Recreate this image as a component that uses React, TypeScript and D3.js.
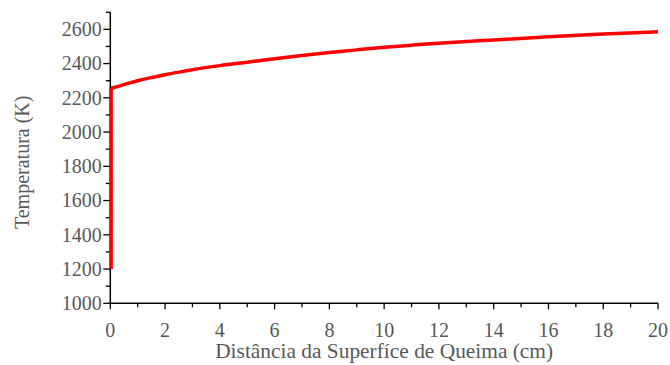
import React from "react";
import * as d3 from "d3";

// distance from burning surface (cm) and temperature (K)
const distance = [0.03, 0.03, 0.1, 0.5, 1, 1.5, 2, 2.5, 3, 4, 5, 6, 7, 8, 9, 10, 12, 14, 16, 18, 20];
const temperature = [1200, 2256, 2259, 2277, 2300, 2318, 2335, 2350, 2364, 2388, 2408, 2428, 2447, 2464, 2480, 2495, 2519, 2538, 2556, 2572, 2586];

const yLabels = [1000, 1200, 1400, 1600, 1800, 2000, 2200, 2400, 2600];
const xLabels = [0, 2, 4, 6, 8, 10, 12, 14, 16, 18, 20];

const W = 670;
const H = 365;
const margin = { left: 110.3, right: 12, top: 12.2, bottom: 61.7 };
const font = "'Liberation Serif', 'Times New Roman', serif";
const gray = "#595959";

export default function App() {
  const x = d3.scaleLinear().domain([0, 20]).range([margin.left, W - margin.right]);
  const y = d3.scaleLinear().domain([1000, 2700]).range([H - margin.bottom, margin.top]);

  const pts = distance.map((d, i) => [d, temperature[i]] as [number, number]);

  let riseLine = d3
    .line<[number, number]>()
    .x((d) => x(d[0]))
    .y((d) => y(d[1]));
  let curveLine = d3
    .line<[number, number]>()
    .x((d) => x(d[0]))
    .y((d) => y(d[1]))
    .curve(d3.curveMonotoneX);

  const yMinor = d3.range(1000, 2701, 100);
  const xMinor = d3.range(0, 21, 1);
  const x0 = x(0);
  const yBase = y(1000);

  return (
    <svg width={W} height={H} style={{ position: "absolute", left: 0, top: 0, background: "#fff" }}>
      {/* y axis */}
      <line x1={x0} x2={x0} y1={y(2700)} y2={yBase} stroke="#000" strokeWidth={1.5} />
      {yMinor.map((v) => (
        <line key={"ym" + v} x1={x0 - (v % 200 === 0 ? 7 : 4.5)} x2={x0} y1={y(v)} y2={y(v)} stroke="#000" strokeWidth={1.3} />
      ))}
      {yLabels.map((v) => (
        <text key={"yl" + v} x={x0 - 8.5} y={y(v)} dy="0.34em" textAnchor="end" fontFamily={font} fontSize={20} fill={gray}>
          {v}
        </text>
      ))}
      {/* x axis */}
      <line x1={x0} x2={x(20)} y1={yBase} y2={yBase} stroke="#000" strokeWidth={1.5} />
      {xMinor.map((v) => (
        <line key={"xm" + v} x1={x(v)} x2={x(v)} y1={yBase} y2={yBase + (v % 2 === 0 ? 6 : 4)} stroke="#000" strokeWidth={1.3} />
      ))}
      {xLabels.map((v) => (
        <text key={"xl" + v} x={x(v)} y={337} textAnchor="middle" fontFamily={font} fontSize={20} fill={gray}>
          {v}
        </text>
      ))}
      <text x={(x0 + x(20)) / 2} y={358} textAnchor="middle" fontFamily={font} fontSize={21.4} fill={gray}>
        Distância da Superfíce de Queima (cm)
      </text>
      <text transform={`translate(28.5,${(y(1000) + y(2600)) / 2 - 4}) rotate(-90)`} textAnchor="middle" fontFamily={font} fontSize={20} fill={gray}>
        Temperatura (K)
      </text>
      {/* data */}
      <path d={riseLine(pts.slice(0, 2)) || ""} fill="none" stroke="#ff0000" strokeWidth={3.5} />
      <path d={curveLine(pts.slice(1)) || ""} fill="none" stroke="#ff0000" strokeWidth={3.5} strokeLinejoin="round" />
    </svg>
  );
}
